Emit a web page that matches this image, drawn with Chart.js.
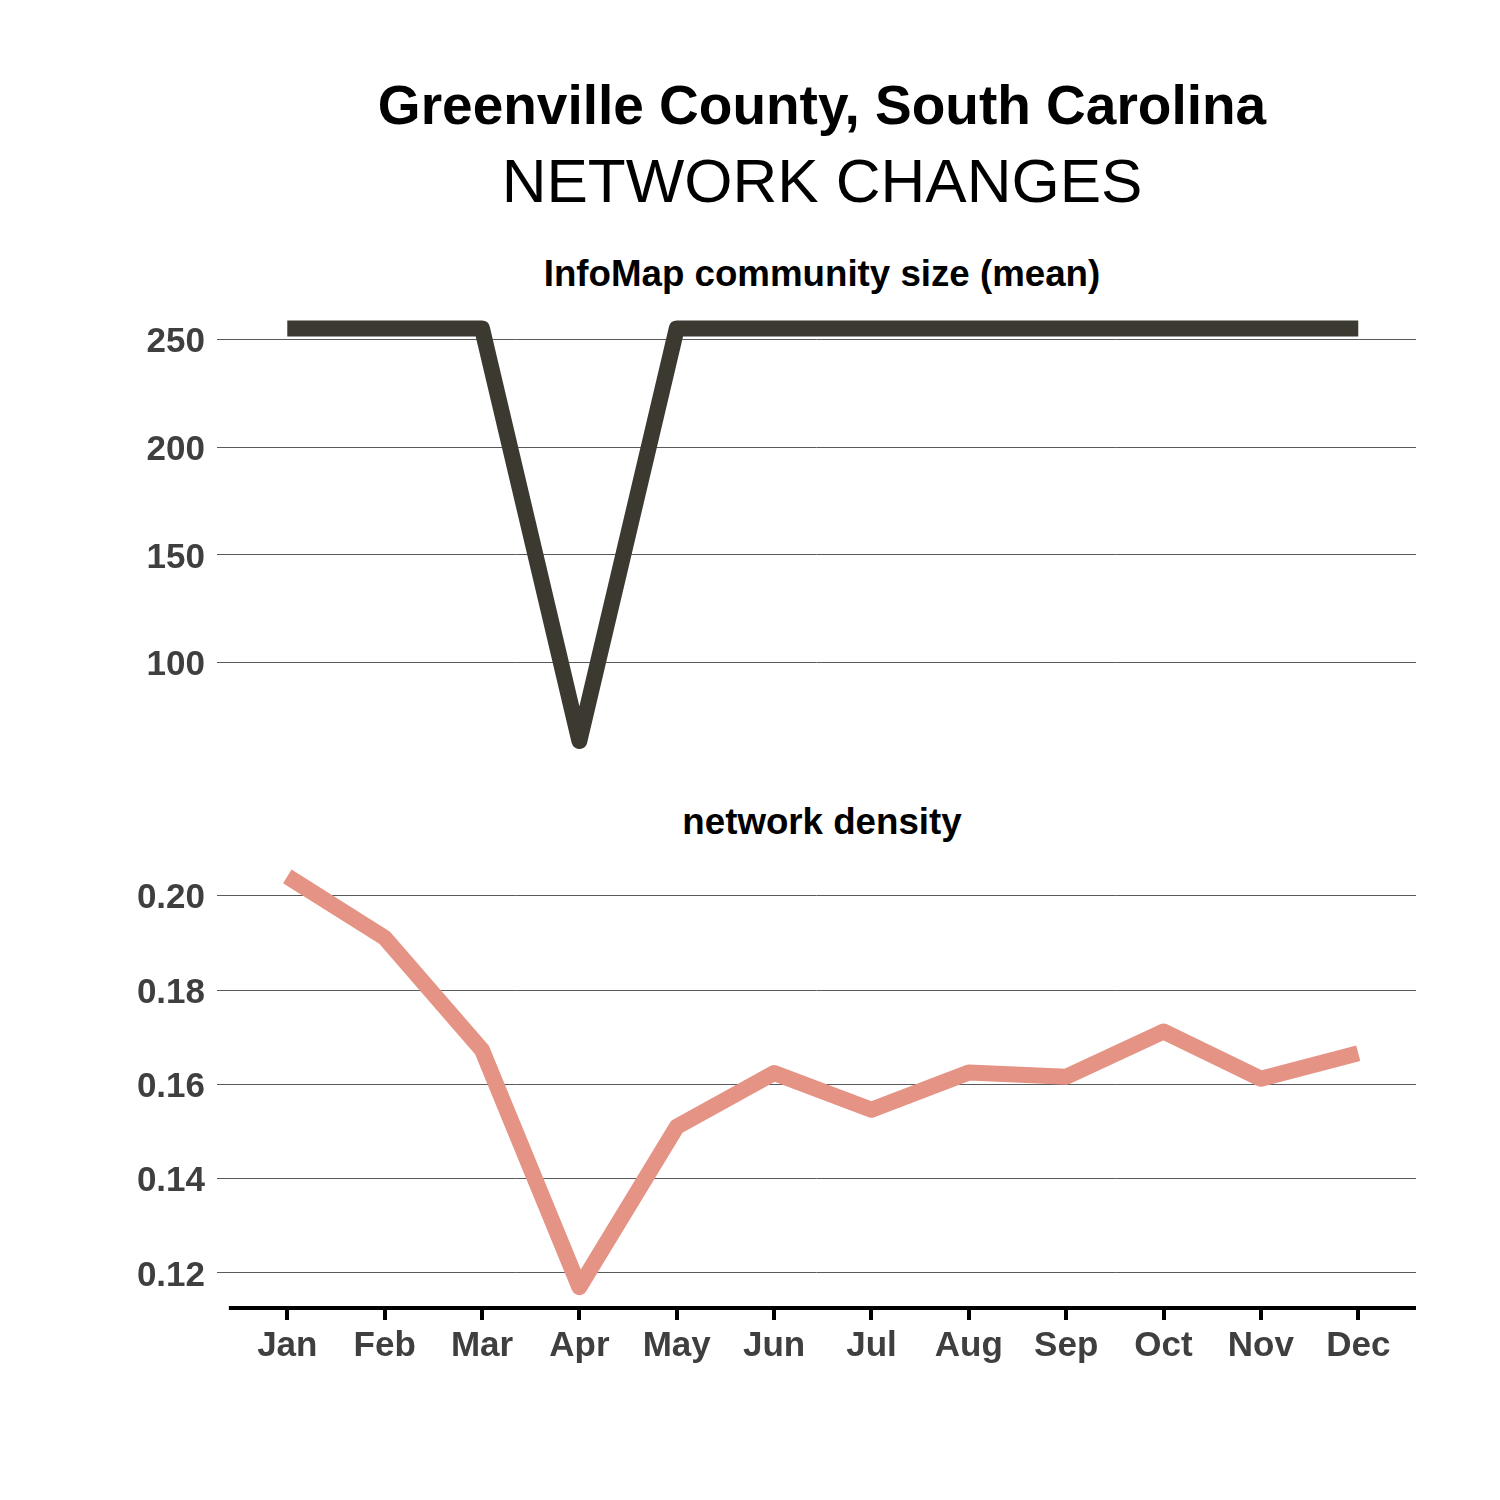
<!DOCTYPE html>
<html>
<head>
<meta charset="utf-8">
<script src="https://cdn.jsdelivr.net/npm/chart.js@4/dist/chart.umd.min.js"></script>
<style>
  html, body { margin: 0; padding: 0; background: #ffffff; }
  #wrap { position: relative; width: 1500px; height: 1500px; background: #ffffff; overflow: hidden; }
  canvas { position: absolute; left: 0; }
  .t { position: absolute; left: 0; width: 1644px; text-align: center; font-family: "Liberation Sans", Arial, sans-serif; color: #000; white-space: nowrap; }
</style>
</head>
<body>
<div id="wrap">
  <div class="t" id="mainTitle" style="top:78px;font-size:55px;line-height:55px;font-weight:bold;">Greenville County, South Carolina</div>
  <div class="t" id="subTitle" style="top:150px;font-size:62px;line-height:62px;">NETWORK CHANGES</div>
  <div class="t" id="panel1Title" style="top:256px;font-size:36.7px;line-height:36px;font-weight:bold;">InfoMap community size (mean)</div>
  <div class="t" id="panel2Title" style="top:804px;font-size:36.7px;line-height:36px;font-weight:bold;">network density</div>
  <canvas id="c1" width="1500" height="800" style="top:0px;"></canvas>
  <canvas id="c2" width="1500" height="700" style="top:800px;"></canvas>
</div>
<script>
// ---- data ----
const months = ["Jan","Feb","Mar","Apr","May","Jun","Jul","Aug","Sep","Oct","Nov","Dec"];
const communitySize = [255, 255, 255, 63.7, 255, 255, 255, 255, 255, 255, 255, 255];
const networkDensity = [0.2041, 0.1911, 0.1673, 0.1170, 0.1510, 0.1624, 0.1546, 0.1625, 0.1616, 0.1712, 0.1612, 0.1666];
const communityTicks = [100, 150, 200, 250];
const densityTicks = [0.12, 0.14, 0.16, 0.18, 0.20];

const tickFont = { family: "'Liberation Sans', Arial, sans-serif", size: 35, weight: 'bold' };
const tickColor = '#3f3f3f';
const gridColor = '#5a5a5a';

function pts(arr) { return arr.map((v, i) => ({ x: i, y: v })); }

const xMin = -0.722, xMax = 11.593;

// top chart
new Chart(document.getElementById('c1'), {
  type: 'line',
  data: {
    datasets: [{
      data: pts(communitySize),
      borderColor: '#3b3930',
      borderWidth: 16,
      borderCapStyle: 'butt',
      borderJoinStyle: 'round',
      pointRadius: 0,
      tension: 0,
      clip: false,
      fill: false
    }]
  },
  options: {
    responsive: false,
    animation: false,
    devicePixelRatio: 1,
    layout: { padding: { top: 300, bottom: 40, left: 0, right: 84 } },
    plugins: { legend: { display: false }, tooltip: { enabled: false }, title: { display: false } },
    scales: {
      x: { type: 'linear', min: xMin, max: xMax, display: false },
      y: {
        type: 'linear', min: 54.9, max: 268.2,
        afterBuildTicks: (s) => { s.ticks = communityTicks.map(v => ({ value: v })); },
        afterFit: (s) => { s.width = 217; },
        ticks: { font: tickFont, color: tickColor, padding: 12, labelOffset: 3, callback: (v) => String(v) },
        grid: { color: gridColor, lineWidth: 1, drawTicks: false },
        border: { display: false }
      }
    }
  }
});

// axis line plugin for bottom chart
const axisLine = {
  id: 'axisLine',
  afterDraw(chart) {
    const ctx = chart.ctx, xs = chart.scales.x, a = chart.chartArea;
    ctx.save();
    ctx.strokeStyle = '#000';
    ctx.lineWidth = 4;
    ctx.beginPath();
    ctx.moveTo(xs.getPixelForValue(-0.6), a.bottom + 2);
    ctx.lineTo(a.right, a.bottom + 2);
    ctx.stroke();
    ctx.restore();
  }
};

new Chart(document.getElementById('c2'), {
  type: 'line',
  data: {
    datasets: [{
      data: pts(networkDensity),
      borderColor: '#e59384',
      borderWidth: 16,
      borderCapStyle: 'butt',
      borderJoinStyle: 'round',
      pointRadius: 0,
      tension: 0,
      clip: false,
      fill: false
    }]
  },
  plugins: [axisLine],
  options: {
    responsive: false,
    animation: false,
    devicePixelRatio: 1,
    layout: { padding: { top: 60, bottom: 94, left: 0, right: 84 } },
    plugins: { legend: { display: false }, tooltip: { enabled: false }, title: { display: false } },
    scales: {
      x: {
        type: 'linear', min: xMin, max: xMax,
        afterBuildTicks: (s) => { s.ticks = months.map((m, i) => ({ value: i })); },
        afterFit: (s) => { s.height = 100; },
        ticks: { font: tickFont, color: tickColor, padding: 5, autoSkip: false, maxRotation: 0,
                 callback: (v) => months[v] },
        grid: { drawOnChartArea: false, drawTicks: true, tickLength: 14, color: '#000', lineWidth: 4 },
        border: { display: false }
      },
      y: {
        type: 'linear', min: 0.1130, max: 0.20757,
        afterBuildTicks: (s) => { s.ticks = densityTicks.map(v => ({ value: v })); },
        afterFit: (s) => { s.width = 217; },
        ticks: { font: tickFont, color: tickColor, padding: 12, labelOffset: 3, callback: (v) => v.toFixed(2) },
        grid: { color: gridColor, lineWidth: 1, drawTicks: false },
        border: { display: false }
      }
    }
  }
});
</script>
</body>
</html>
